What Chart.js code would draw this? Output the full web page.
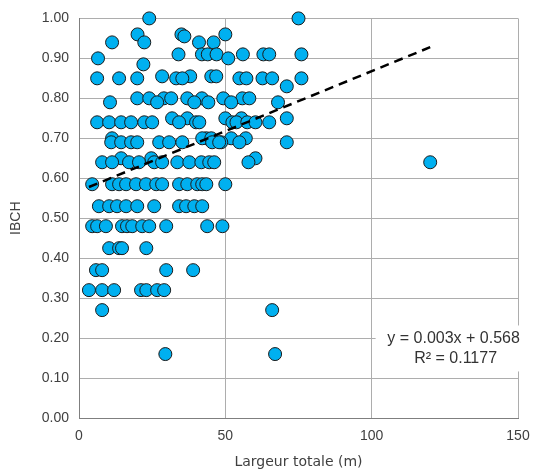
<!DOCTYPE html>
<html>
<head>
<meta charset="utf-8">
<script src="https://cdn.jsdelivr.net/npm/chart.js@4"></script>
<style>
  html, body { margin: 0; padding: 0; background: #fff; }
  #wrap { width: 536px; height: 475px; }
</style>
</head>
<body>
<div id="wrap"><canvas id="chart" width="536" height="475"></canvas></div>
<script>
// IBCH vs largeur totale
const largeur = [
  24, 75,
  20, 35, 36, 50,
  11.3, 22.3, 41, 46,
  34, 42, 44, 47, 56, 63, 65, 76,
  6.5, 51,
  22,
  28.4, 38, 45.2, 46.9,
  6.2, 13.7, 19.9, 33.2, 35.3, 54.8, 57.2, 62.7, 66, 76,
  71,
  19.9, 24, 29, 31.5, 37, 42, 49.3, 55.8, 58.2,
  10.6, 26.7, 39.4, 44.2, 52, 68,
  31.8, 37, 50, 55.5, 71,
  6.2, 10.3, 14.4, 17.8, 22.3, 25, 34.2, 40, 41.1, 52.4, 53.8, 57.5, 60.3, 65,
  11.3, 43.5, 52, 57, 42.1, 45.2,
  11, 14.4, 17.8, 19.9, 27.4, 30.8, 35.3, 45.5, 48.6, 54.8, 47.9, 71,
  14.4, 24.7, 60.3,
  7.9, 11.3, 17.1, 20.5, 25.7, 28.4, 33.6, 37.7, 41.8, 44.5, 46.2, 57.9, 120,
  4.5, 11.3, 13.7, 16.1, 19.5, 22.9, 26.4, 28.4, 34.2, 37, 40.4, 42.1, 43.5, 50,
  6.8, 10.3, 13, 16.1, 19.9, 25.7, 34.2, 36.6, 39.4, 42.1,
  4.5, 6.2, 9.2, 14.7, 16.4, 18.2, 21.6, 24, 29.8, 43.8, 49,
  10.3, 13.7, 14.7, 23,
  5.8, 7.9, 29.8, 39,
  3.4, 7.9, 12, 21.2, 23, 26.7, 29.1,
  7.9, 66,
  29.5, 67
];
const ibch = [
  1.00, 1.00,
  0.96, 0.96, 0.955, 0.96,
  0.94, 0.94, 0.94, 0.94,
  0.91, 0.91, 0.91, 0.91, 0.91, 0.91, 0.91, 0.91,
  0.90, 0.90,
  0.885,
  0.855, 0.855, 0.855, 0.855,
  0.85, 0.85, 0.85, 0.85, 0.85, 0.85, 0.85, 0.85, 0.85, 0.85,
  0.83,
  0.80, 0.80, 0.80, 0.80, 0.80, 0.80, 0.80, 0.80, 0.80,
  0.79, 0.79, 0.79, 0.79, 0.79, 0.79,
  0.75, 0.75, 0.75, 0.75, 0.75,
  0.74, 0.74, 0.74, 0.74, 0.74, 0.74, 0.74, 0.74, 0.74, 0.74, 0.74, 0.74, 0.74, 0.74,
  0.70, 0.70, 0.70, 0.70, 0.70, 0.70,
  0.69, 0.69, 0.69, 0.69, 0.69, 0.69, 0.69, 0.69, 0.69, 0.69, 0.69, 0.69,
  0.65, 0.65, 0.65,
  0.64, 0.64, 0.64, 0.64, 0.64, 0.64, 0.64, 0.64, 0.64, 0.64, 0.64, 0.64, 0.64,
  0.585, 0.585, 0.585, 0.585, 0.585, 0.585, 0.585, 0.585, 0.585, 0.585, 0.585, 0.585, 0.585, 0.585,
  0.53, 0.53, 0.53, 0.53, 0.53, 0.53, 0.53, 0.53, 0.53, 0.53,
  0.48, 0.48, 0.48, 0.48, 0.48, 0.48, 0.48, 0.48, 0.48, 0.48, 0.48,
  0.425, 0.425, 0.425, 0.425,
  0.37, 0.37, 0.37, 0.37,
  0.32, 0.32, 0.32, 0.32, 0.32, 0.32, 0.32,
  0.27, 0.27,
  0.16, 0.16
];

// linear trend (Excel) endpoints
const trendX = [3.4, 120];
const trendY = [0.578, 0.928];
const equationLines = ['y = 0.003x + 0.568', 'R² = 0.1177'];

const xTicks = [0, 50, 100, 150];
const yTicks = [0, 0.1, 0.2, 0.3, 0.4, 0.5, 0.6, 0.7, 0.8, 0.9, 1.0];

const points = largeur.map((x, i) => ({ x: x, y: ibch[i] }));
const trend = trendX.map((x, i) => ({ x: x, y: trendY[i] }));

// white box with the regression equation, over the gridlines
const equationBox = {
  id: 'equationBox',
  afterDatasetsDraw(chart) {
    const ctx = chart.ctx;
    const xs = chart.scales.x, ys = chart.scales.y;
    const cx = xs.getPixelForValue(128);
    const cy = ys.getPixelForValue(0.174);
    ctx.save();
    ctx.fillStyle = '#fff';
    ctx.fillRect(cx - 78, cy - 23, 162, 46);
    ctx.fillStyle = '#333';
    ctx.font = '16px "Liberation Sans", Arial, sans-serif';
    ctx.textAlign = 'center';
    ctx.textBaseline = 'middle';
    ctx.fillText(equationLines[0], cx, cy - 10);
    ctx.fillText(equationLines[1], cx + 2, cy + 10);
    ctx.restore();
  }
};

const ctx = document.getElementById('chart').getContext('2d');
new Chart(ctx, {
  type: 'scatter',
  data: {
    datasets: [{
      label: 'IBCH',
      data: points,
      backgroundColor: '#00b0f0',
      borderColor: '#1a1a1a',
      borderWidth: 1,
      pointRadius: 6.5,
      order: 1,
      clip: 10
    }, {
      type: 'line',
      label: 'Linéaire',
      data: trend,
      borderColor: '#000',
      borderWidth: 2.5,
      borderDash: [9, 6],
      pointRadius: 0,
      fill: false,
      order: 0
    }]
  },
  options: {
    responsive: false,
    animation: false,
    layout: { padding: { left: 0, right: 18, top: 16, bottom: 0 } },
    plugins: {
      legend: { display: false },
      tooltip: { enabled: false }
    },
    scales: {
      x: {
        type: 'linear',
        min: 0,
        max: 150,
        afterBuildTicks: s => { s.ticks = xTicks.map(v => ({ value: v })); },
        afterFit: s => { s.height = 57; s.paddingRight = 0; s.paddingLeft = 0; },
        grid: { color: '#adadad', drawTicks: false },
        border: { color: '#7f7f7f' },
        ticks: { padding: 10, color: '#404040', font: { family: '"Liberation Sans", Arial', size: 14 } },
        title: {
          display: true,
          text: 'Largeur totale (m)',
          color: '#404040',
          font: { family: '"DejaVu Sans", Verdana', size: 14 },
          padding: { top: 2 }
        }
      },
      y: {
        min: 0,
        max: 1,
        afterBuildTicks: s => { s.ticks = yTicks.map(v => ({ value: v })); },
        afterFit: s => { s.width = 79; },
        grid: { color: '#adadad', drawTicks: false },
        border: { color: '#7f7f7f' },
        ticks: {
          padding: 10,
          color: '#404040',
          font: { family: '"Liberation Sans", Arial', size: 14 },
          callback: v => v.toFixed(2)
        },
        title: {
          display: true,
          text: 'IBCH',
          color: '#404040',
          font: { family: '"Liberation Sans", Arial', size: 14 },
          padding: { top: 8, bottom: 0 }
        }
      }
    }
  },
  plugins: [equationBox]
});
</script>
</body>
</html>
